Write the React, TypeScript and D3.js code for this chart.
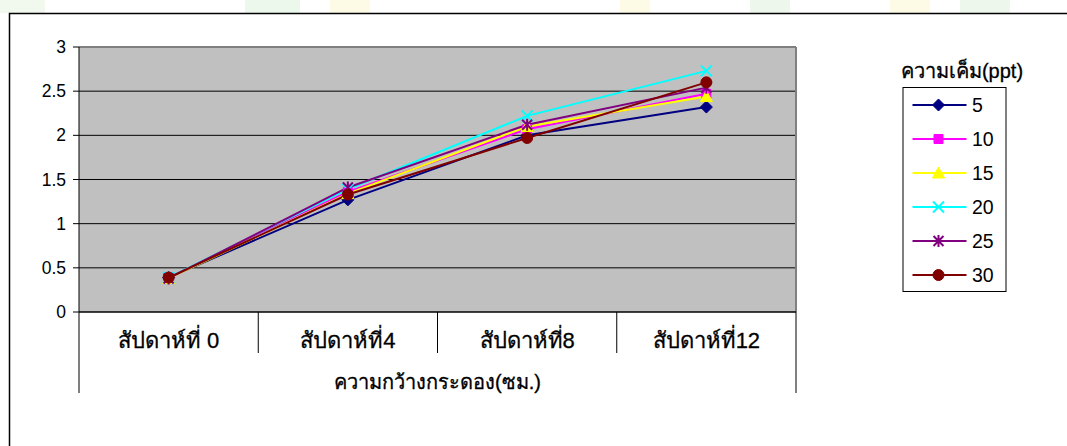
import React from "react";
import * as d3 from "d3";

// Weeks of rearing (x categories) and salinity levels (series)
const weeks = ["สัปดาห์ที่ 0", "สัปดาห์ที่4", "สัปดาห์ที่8", "สัปดาห์ที่12"];
const salinity = ["5", "10", "15", "20", "25", "30"];

// Carapace width (cm) per salinity level, one value per week
const s5 = [0.39, 1.27, 2.0, 2.32];
const s10 = [0.39, 1.36, 2.07, 2.47];
const s15 = [0.38, 1.34, 2.1, 2.44];
const s20 = [0.39, 1.39, 2.22, 2.73];
const s25 = [0.38, 1.41, 2.12, 2.54];
const s30 = [0.39, 1.33, 1.97, 2.6];

const yTicks = [0, 0.5, 1, 1.5, 2, 2.5, 3];
const yTickLabels = ["0", "0.5", "1", "1.5", "2", "2.5", "3"];

const legendTitle = "ความเค็ม(ppt)";
const axisTitle = "ความกว้างกระดอง(ซม.)";

const seriesValues = [s5, s10, s15, s20, s25, s30];
const colors = ["#000080", "#FF00FF", "#FFFF00", "#00FFFF", "#800080", "#800000"];
const markers = ["diamond", "square", "triangle", "x", "star", "circle"];

const FONT = "'Liberation Sans', Arial, sans-serif";

function markerPath(kind: string, cx: number, cy: number): string {
  const p = d3.path();
  if (kind === "diamond") {
    const r = 6;
    p.moveTo(cx, cy - r);
    p.lineTo(cx + r, cy);
    p.lineTo(cx, cy + r);
    p.lineTo(cx - r, cy);
    p.closePath();
  } else if (kind === "square") {
    const r = 4.5;
    p.rect(cx - r, cy - r, 2 * r, 2 * r);
  } else if (kind === "triangle") {
    p.moveTo(cx, cy - 6);
    p.lineTo(cx + 6, cy + 5);
    p.lineTo(cx - 6, cy + 5);
    p.closePath();
  } else if (kind === "x") {
    const r = 5.5;
    p.moveTo(cx - r, cy - r);
    p.lineTo(cx + r, cy + r);
    p.moveTo(cx + r, cy - r);
    p.lineTo(cx - r, cy + r);
  } else if (kind === "star") {
    const r = 5;
    p.moveTo(cx - r, cy - r);
    p.lineTo(cx + r, cy + r);
    p.moveTo(cx + r, cy - r);
    p.lineTo(cx - r, cy + r);
    p.moveTo(cx, cy - 6);
    p.lineTo(cx, cy + 6);
  } else {
    p.moveTo(cx + 5.5, cy);
    p.arc(cx, cy, 5.5, 0, Math.PI * 2);
  }
  return p.toString();
}

function Marker({ kind, cx, cy, color }: { kind: string; cx: number; cy: number; color: string }) {
  const d = markerPath(kind, cx, cy);
  const stroked = kind === "x" || kind === "star";
  return stroked ? (
    <path d={d} fill="none" stroke={color} strokeWidth={2} />
  ) : (
    <path d={d} fill={color} stroke={color} strokeWidth={1} />
  );
}

export default function App() {
  const W = 1067;
  const H = 446;
  const plot = { left: 79, right: 796, top: 47, bottom: 312 };

  const x = d3.scaleBand<string>().domain(weeks).range([plot.left, plot.right]).padding(0);
  const y = d3.scaleLinear().domain([0, 3]).range([plot.bottom, plot.top]);
  const cx = (w: string) => (x(w) as number) + x.bandwidth() / 2;

  const line = d3
    .line<number>()
    .x((_, i) => cx(weeks[i]))
    .y((v) => y(v));

  const legend = { left: 903, top: 87.5, width: 103, height: 204, rowGap: 34, firstRow: 105 };

  // faint decorative wash along the top edge
  const wash = [
    { x0: 0, x1: 45, c: "#dff0d8" },
    { x0: 245, x1: 300, c: "#d8efd6" },
    { x0: 330, x1: 370, c: "#fbf4c8" },
    { x0: 620, x1: 650, c: "#fbf4c8" },
    { x0: 750, x1: 790, c: "#d6eed4" },
    { x0: 890, x1: 930, c: "#fbf4c8" },
    { x0: 960, x1: 1010, c: "#d6eed4" },
  ];

  return (
    <svg
      width={W}
      height={H}
      style={{ position: "absolute", left: 0, top: 0, background: "#fff" }}
      fontFamily={FONT}
    >
      {wash.map((b, i) => (
        <rect key={i} x={b.x0} y={0} width={b.x1 - b.x0} height={13} fill={b.c} opacity={0.45} />
      ))}

      {/* chart area border */}
      <rect x={9.5} y={13.5} width={W + 20} height={H + 20} fill="#fff" stroke="#000" strokeWidth={1.5} />

      {/* plot area */}
      <rect
        x={plot.left}
        y={plot.top}
        width={plot.right - plot.left}
        height={plot.bottom - plot.top}
        fill="#C0C0C0"
      />
      {yTicks
        .filter((t) => t > 0 && t < 3)
        .map((t) => (
          <line key={t} x1={plot.left} x2={plot.right} y1={y(t)} y2={y(t)} stroke="#000" strokeWidth={1} />
        ))}
      <line x1={plot.left} x2={plot.right} y1={plot.top} y2={plot.top} stroke="#808080" strokeWidth={2} />
      <line x1={plot.right} x2={plot.right} y1={plot.top} y2={plot.bottom} stroke="#808080" strokeWidth={2} />

      {/* value axis */}
      <line x1={plot.left} x2={plot.left} y1={plot.top} y2={plot.bottom} stroke="#000" strokeWidth={1} />
      {yTicks.map((t, i) => (
        <g key={t}>
          <line x1={plot.left - 6} x2={plot.left} y1={y(t)} y2={y(t)} stroke="#000" strokeWidth={1} />
          <text x={66} y={y(t)} dy="0.35em" textAnchor="end" fontSize={17.5} fill="#000">
            {yTickLabels[i]}
          </text>
        </g>
      ))}

      {/* category axis with grouped title */}
      <line x1={plot.left} x2={plot.right} y1={plot.bottom} y2={plot.bottom} stroke="#000" strokeWidth={1.5} />
      {weeks.map((w, i) =>
        i === 0 ? null : (
          <line
            key={w}
            x1={x(w) as number}
            x2={x(w) as number}
            y1={plot.bottom}
            y2={353}
            stroke="#000"
            strokeWidth={1}
          />
        )
      )}
      <line x1={plot.left} x2={plot.left} y1={plot.bottom} y2={393} stroke="#000" strokeWidth={1} />
      <line x1={plot.right} x2={plot.right} y1={plot.bottom} y2={393} stroke="#000" strokeWidth={1} />
      {weeks.map((w) => (
        <text
          key={w}
          x={cx(w)}
          y={340}
          dy="0.35em"
          textAnchor="middle"
          fontSize={22}
          fill="#000"
          stroke="#000"
          strokeWidth={0.3}
        >
          {w}
        </text>
      ))}
      <text
        x={(plot.left + plot.right) / 2}
        y={382}
        dy="0.35em"
        textAnchor="middle"
        fontSize={20}
        fill="#000"
        stroke="#000"
        strokeWidth={0.3}
      >
        {axisTitle}
      </text>

      {/* series */}
      {seriesValues.map((vals, si) => (
        <path key={si} d={line(vals) as string} fill="none" stroke={colors[si]} strokeWidth={2} />
      ))}
      {seriesValues.map((vals, si) =>
        vals.map((v, i) => (
          <Marker key={`${si}-${i}`} kind={markers[si]} cx={cx(weeks[i])} cy={y(v)} color={colors[si]} />
        ))
      )}

      {/* legend */}
      <text
        x={962}
        y={71}
        dy="0.35em"
        textAnchor="middle"
        fontSize={20}
        fill="#000"
        stroke="#000"
        strokeWidth={0.3}
      >
        {legendTitle}
      </text>
      <rect
        x={legend.left}
        y={legend.top}
        width={legend.width}
        height={legend.height}
        fill="#fff"
        stroke="#000"
        strokeWidth={1}
      />
      {salinity.map((s, i) => {
        const ly = legend.firstRow + i * legend.rowGap;
        return (
          <g key={s}>
            <line x1={912.5} x2={966.5} y1={ly} y2={ly} stroke={colors[i]} strokeWidth={2} />
            <Marker kind={markers[i]} cx={938.5} cy={ly} color={colors[i]} />
            <text x={972} y={ly} dy="0.36em" fontSize={19.5} fill="#000">
              {s}
            </text>
          </g>
        );
      })}
    </svg>
  );
}
